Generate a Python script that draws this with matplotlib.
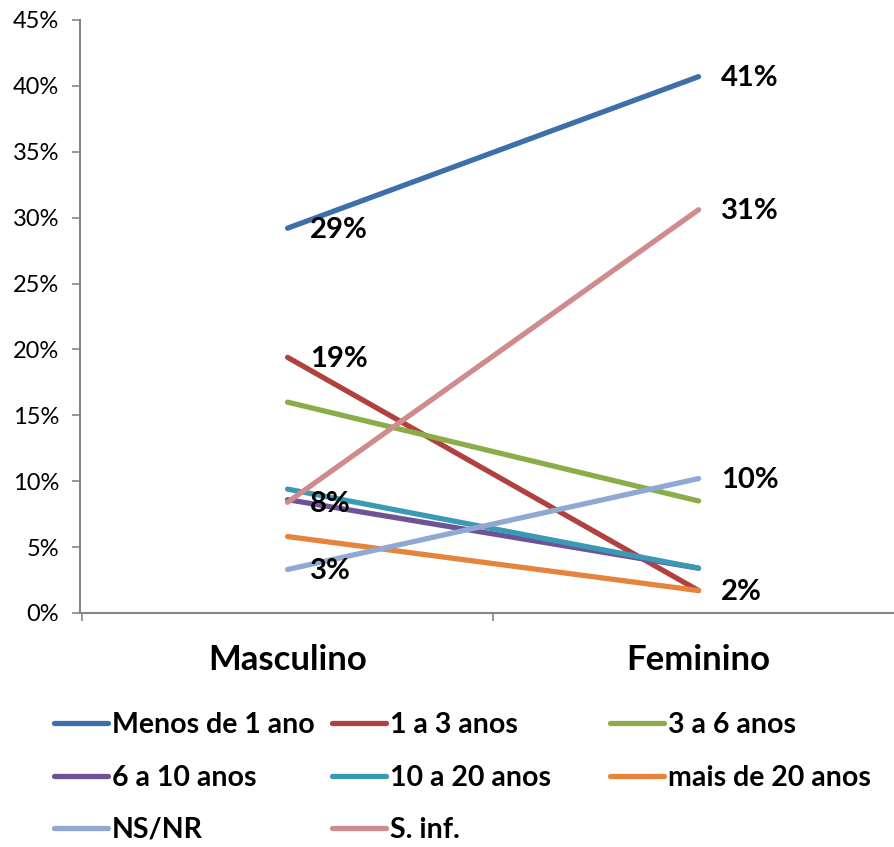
import matplotlib
matplotlib.use("Agg")
import matplotlib.pyplot as plt
from matplotlib.ticker import FuncFormatter, FixedLocator

plt.rcParams['font.family'] = ['Lato', 'DejaVu Sans']

# Data
categories = ["Masculino", "Feminino"]
series_names = ["Menos de 1 ano", "1 a 3 anos", "3 a 6 anos",
                "6 a 10 anos", "10 a 20 anos", "mais de 20 anos",
                "NS/NR", "S. inf."]
menos_1 = [29.2, 40.7]
de_1_3 = [19.4, 1.7]
de_3_6 = [16.0, 8.5]
de_6_10 = [8.6, 3.4]
de_10_20 = [9.4, 3.4]
mais_20 = [5.8, 1.7]
ns_nr = [3.3, 10.2]
s_inf = [8.4, 30.6]
values = [menos_1, de_1_3, de_3_6, de_6_10, de_10_20, mais_20, ns_nr, s_inf]

colors = ["#3F6FAA", "#B0413E", "#8AAD4A", "#6F5397",
          "#3A9AB5", "#E5843A", "#8FA9D3", "#D08C8C"]

# data labels: (series index, category index, text)
labels = [(0, 0, "29%"), (1, 0, "19%"), (7, 0, "8%"), (6, 0, "3%"),
          (0, 1, "41%"), (7, 1, "31%"), (6, 1, "10%"), (1, 1, "2%")]

fig = plt.figure(figsize=(8.95, 8.47), dpi=100)
ax = fig.add_axes([0.0894, 0.2763, 0.9106, 0.7001])

x = list(range(len(categories)))
handles = []
for name, vals, c in zip(series_names, values, colors):
    ln, = ax.plot(x, vals, color=c, lw=3.8, solid_capstyle='round', label=name)
    handles.append(ln)

for si, ci, txt in labels:
    ax.annotate(txt, (x[ci], values[si][ci]), xytext=(16, -1),
                textcoords='offset points', ha='left', va='center',
                fontsize=21, fontweight='bold', color='black')

ax.set_xlim(-0.505, 1.478)
ax.set_ylim(0, 45)
ax.yaxis.set_major_locator(FixedLocator(range(0, 46, 5)))
ax.yaxis.set_major_formatter(FuncFormatter(lambda v, p: f"{int(v)}%"))

ax.set_xticks(x)
ax.set_xticklabels(categories, fontsize=25, fontweight='bold')
ax.set_xticks([-0.5, 0.5], minor=True)
ax.tick_params(axis='x', which='major', length=0, pad=22)
ax.tick_params(axis='x', which='minor', length=6, direction='out', color='#868686', width=1.2)
ax.tick_params(axis='y', length=6, direction='out', color='#868686', width=1.2,
               labelsize=17, pad=9)

for side in ['top', 'right']:
    ax.spines[side].set_visible(False)
for side in ['left', 'bottom']:
    ax.spines[side].set_color('#868686')
    ax.spines[side].set_linewidth(1.5)

# legend, one block per column
col_x = [0.060, 0.371, 0.682]
for c in range(3):
    hs = handles[c::3]
    fig.legend(handles=hs, labels=[h.get_label() for h in hs],
               loc='upper left', bbox_to_anchor=(col_x[c], 0.159),
               frameon=False, handlelength=1.9, handletextpad=0.14,
               labelspacing=0.92, borderaxespad=0, borderpad=0,
               prop={'weight': 'bold', 'size': 20.5})

fig.savefig("out.png", dpi=100)
